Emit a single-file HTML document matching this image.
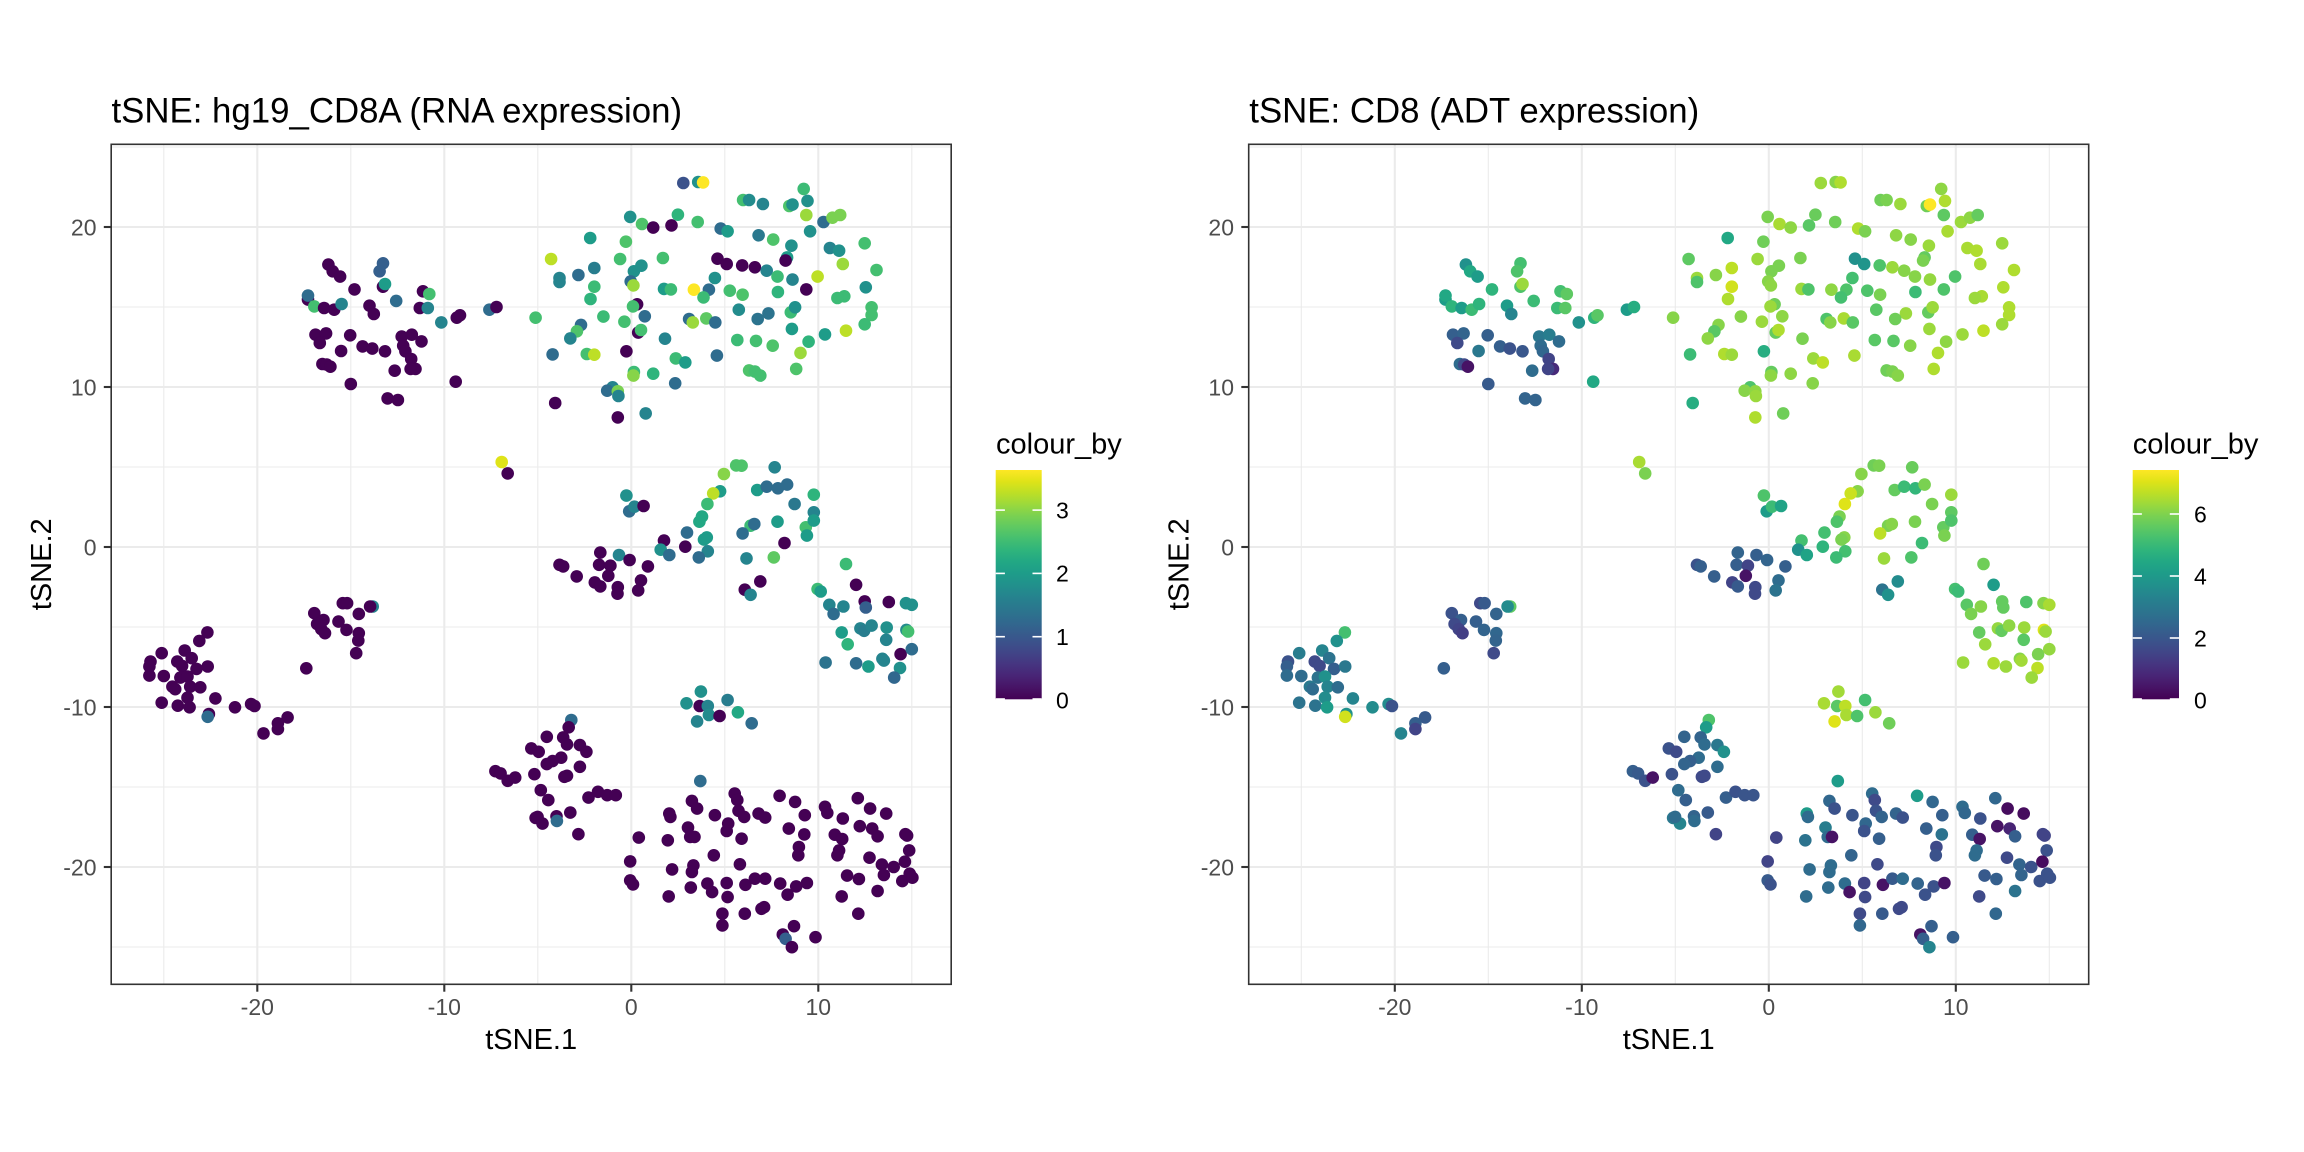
<!DOCTYPE html>
<html>
<head>
<meta charset="utf-8">
<style>
html,body{margin:0;padding:0;background:#fff;}
svg{display:block;}
text{font-family:"Liberation Sans",Arial,Helvetica,sans-serif;}
.tk{font-size:23px;fill:#4D4D4D;}
.ttl{font-size:34.8px;fill:#000;}
.ax{font-size:29px;fill:#000;}
.lg{font-size:29px;fill:#000;}
.ll{font-size:23px;fill:#000;}
.mj{stroke:#EBEBEB;stroke-width:2.1;}
.mn{stroke:#EBEBEB;stroke-width:1.1;}
.tm{stroke:#333333;stroke-width:2.1;}
.cbt{stroke:#ffffff;stroke-width:1.6;}
</style>
</head>
<body>
<svg id="svg" width="2304" height="1152" viewBox="0 0 2304 1152">
<defs>
<linearGradient id="vir" x1="0" y1="1" x2="0" y2="0">
<stop offset="0" stop-color="#440154"/><stop offset="0.05" stop-color="#471365"/><stop offset="0.1" stop-color="#482475"/><stop offset="0.15" stop-color="#463480"/><stop offset="0.2" stop-color="#414487"/><stop offset="0.25" stop-color="#3b528b"/><stop offset="0.3" stop-color="#355f8d"/><stop offset="0.35" stop-color="#2f6c8e"/><stop offset="0.4" stop-color="#2a788e"/><stop offset="0.45" stop-color="#25848e"/><stop offset="0.5" stop-color="#21918c"/><stop offset="0.55" stop-color="#1e9c89"/><stop offset="0.6" stop-color="#22a884"/><stop offset="0.65" stop-color="#2fb47c"/><stop offset="0.7" stop-color="#44bf70"/><stop offset="0.75" stop-color="#5ec962"/><stop offset="0.8" stop-color="#7ad151"/><stop offset="0.85" stop-color="#9bd93c"/><stop offset="0.9" stop-color="#bddf26"/><stop offset="0.95" stop-color="#dfe318"/><stop offset="1" stop-color="#fde725"/>
</linearGradient>
</defs>
<rect x="0" y="0" width="2304" height="1152" fill="#ffffff"/>

<!-- LEFT PANEL -->
<g id="gridL">
<line class="mn" x1="163.8" y1="144.3" x2="163.8" y2="984.3"/>
<line class="mn" x1="350.8" y1="144.3" x2="350.8" y2="984.3"/>
<line class="mn" x1="537.8" y1="144.3" x2="537.8" y2="984.3"/>
<line class="mn" x1="724.8" y1="144.3" x2="724.8" y2="984.3"/>
<line class="mn" x1="911.8" y1="144.3" x2="911.8" y2="984.3"/>
<line class="mn" x1="111.2" y1="147" x2="951.2" y2="147"/>
<line class="mn" x1="111.2" y1="307" x2="951.2" y2="307"/>
<line class="mn" x1="111.2" y1="467" x2="951.2" y2="467"/>
<line class="mn" x1="111.2" y1="627" x2="951.2" y2="627"/>
<line class="mn" x1="111.2" y1="787" x2="951.2" y2="787"/>
<line class="mn" x1="111.2" y1="947" x2="951.2" y2="947"/>
<line class="mj" x1="257.3" y1="144.3" x2="257.3" y2="984.3"/>
<line class="mj" x1="444.3" y1="144.3" x2="444.3" y2="984.3"/>
<line class="mj" x1="631.3" y1="144.3" x2="631.3" y2="984.3"/>
<line class="mj" x1="818.3" y1="144.3" x2="818.3" y2="984.3"/>
<line class="mj" x1="111.2" y1="227" x2="951.2" y2="227"/>
<line class="mj" x1="111.2" y1="387" x2="951.2" y2="387"/>
<line class="mj" x1="111.2" y1="547" x2="951.2" y2="547"/>
<line class="mj" x1="111.2" y1="707" x2="951.2" y2="707"/>
<line class="mj" x1="111.2" y1="867" x2="951.2" y2="867"/>
</g>
<g id="ptsL"></g>
<rect x="111.2" y="144.3" width="840" height="840" fill="none" stroke="#333333" stroke-width="1.6"/>
<g>
<line class="tm" x1="103.8" y1="227" x2="111.2" y2="227"/>
<line class="tm" x1="103.8" y1="387" x2="111.2" y2="387"/>
<line class="tm" x1="103.8" y1="547" x2="111.2" y2="547"/>
<line class="tm" x1="103.8" y1="707" x2="111.2" y2="707"/>
<line class="tm" x1="103.8" y1="867" x2="111.2" y2="867"/>
<line class="tm" x1="257.3" y1="984.3" x2="257.3" y2="991.7"/>
<line class="tm" x1="444.3" y1="984.3" x2="444.3" y2="991.7"/>
<line class="tm" x1="631.3" y1="984.3" x2="631.3" y2="991.7"/>
<line class="tm" x1="818.3" y1="984.3" x2="818.3" y2="991.7"/>
</g>
<text class="tk" x="96.5" y="235.5" text-anchor="end">20</text>
<text class="tk" x="96.5" y="395.5" text-anchor="end">10</text>
<text class="tk" x="96.5" y="555.5" text-anchor="end">0</text>
<text class="tk" x="96.5" y="715.5" text-anchor="end">-10</text>
<text class="tk" x="96.5" y="875.5" text-anchor="end">-20</text>
<text class="tk" x="257.3" y="1015" text-anchor="middle">-20</text>
<text class="tk" x="444.3" y="1015" text-anchor="middle">-10</text>
<text class="tk" x="631.3" y="1015" text-anchor="middle">0</text>
<text class="tk" x="818.3" y="1015" text-anchor="middle">10</text>
<text class="ax" x="531.2" y="1049" text-anchor="middle">tSNE.1</text>
<text class="ax" x="0" y="0" text-anchor="middle" transform="translate(51,564.3) rotate(-90)">tSNE.2</text>
<text class="ttl" x="111.5" y="122.7">tSNE: hg19_CD8A (RNA expression)</text>
<text class="lg" x="996" y="453.3">colour_by</text>
<rect x="995.7" y="470" width="46" height="229.3" fill="url(#vir)"/>
<g>
<line class="cbt" x1="995.7" y1="510.1" x2="1004.9" y2="510.1"/><line class="cbt" x1="1032.5" y1="510.1" x2="1041.7" y2="510.1"/>
<line class="cbt" x1="995.7" y1="573.4" x2="1004.9" y2="573.4"/><line class="cbt" x1="1032.5" y1="573.4" x2="1041.7" y2="573.4"/>
<line class="cbt" x1="995.7" y1="636.7" x2="1004.9" y2="636.7"/><line class="cbt" x1="1032.5" y1="636.7" x2="1041.7" y2="636.7"/>
<line class="cbt" x1="995.7" y1="699" x2="1004.9" y2="699"/><line class="cbt" x1="1032.5" y1="699" x2="1041.7" y2="699"/>
</g>
<text class="ll" x="1056" y="518.4">3</text>
<text class="ll" x="1056" y="581.7">2</text>
<text class="ll" x="1056" y="645">1</text>
<text class="ll" x="1056" y="708.3">0</text>

<!-- RIGHT PANEL -->
<g transform="translate(1137.5,0)">
<line class="mn" x1="163.8" y1="144.3" x2="163.8" y2="984.3"/>
<line class="mn" x1="350.8" y1="144.3" x2="350.8" y2="984.3"/>
<line class="mn" x1="537.8" y1="144.3" x2="537.8" y2="984.3"/>
<line class="mn" x1="724.8" y1="144.3" x2="724.8" y2="984.3"/>
<line class="mn" x1="911.8" y1="144.3" x2="911.8" y2="984.3"/>
<line class="mn" x1="111.2" y1="147" x2="951.2" y2="147"/>
<line class="mn" x1="111.2" y1="307" x2="951.2" y2="307"/>
<line class="mn" x1="111.2" y1="467" x2="951.2" y2="467"/>
<line class="mn" x1="111.2" y1="627" x2="951.2" y2="627"/>
<line class="mn" x1="111.2" y1="787" x2="951.2" y2="787"/>
<line class="mn" x1="111.2" y1="947" x2="951.2" y2="947"/>
<line class="mj" x1="257.3" y1="144.3" x2="257.3" y2="984.3"/>
<line class="mj" x1="444.3" y1="144.3" x2="444.3" y2="984.3"/>
<line class="mj" x1="631.3" y1="144.3" x2="631.3" y2="984.3"/>
<line class="mj" x1="818.3" y1="144.3" x2="818.3" y2="984.3"/>
<line class="mj" x1="111.2" y1="227" x2="951.2" y2="227"/>
<line class="mj" x1="111.2" y1="387" x2="951.2" y2="387"/>
<line class="mj" x1="111.2" y1="547" x2="951.2" y2="547"/>
<line class="mj" x1="111.2" y1="707" x2="951.2" y2="707"/>
<line class="mj" x1="111.2" y1="867" x2="951.2" y2="867"/>
</g>
<g id="ptsR"></g>
<g transform="translate(1137.5,0)">
<rect x="111.2" y="144.3" width="840" height="840" fill="none" stroke="#333333" stroke-width="1.6"/>
<line class="tm" x1="103.8" y1="227" x2="111.2" y2="227"/>
<line class="tm" x1="103.8" y1="387" x2="111.2" y2="387"/>
<line class="tm" x1="103.8" y1="547" x2="111.2" y2="547"/>
<line class="tm" x1="103.8" y1="707" x2="111.2" y2="707"/>
<line class="tm" x1="103.8" y1="867" x2="111.2" y2="867"/>
<line class="tm" x1="257.3" y1="984.3" x2="257.3" y2="991.7"/>
<line class="tm" x1="444.3" y1="984.3" x2="444.3" y2="991.7"/>
<line class="tm" x1="631.3" y1="984.3" x2="631.3" y2="991.7"/>
<line class="tm" x1="818.3" y1="984.3" x2="818.3" y2="991.7"/>
<text class="tk" x="96.5" y="235.5" text-anchor="end">20</text>
<text class="tk" x="96.5" y="395.5" text-anchor="end">10</text>
<text class="tk" x="96.5" y="555.5" text-anchor="end">0</text>
<text class="tk" x="96.5" y="715.5" text-anchor="end">-10</text>
<text class="tk" x="96.5" y="875.5" text-anchor="end">-20</text>
<text class="tk" x="257.3" y="1015" text-anchor="middle">-20</text>
<text class="tk" x="444.3" y="1015" text-anchor="middle">-10</text>
<text class="tk" x="631.3" y="1015" text-anchor="middle">0</text>
<text class="tk" x="818.3" y="1015" text-anchor="middle">10</text>
<text class="ax" x="531.2" y="1049" text-anchor="middle">tSNE.1</text>
<text class="ax" x="0" y="0" text-anchor="middle" transform="translate(51,564.3) rotate(-90)">tSNE.2</text>
<text class="ttl" x="111.8" y="122.7">tSNE: CD8 (ADT expression)</text>
</g>
<text class="lg" x="2132.7" y="453.3">colour_by</text>
<rect x="2132.7" y="470" width="46.3" height="229.3" fill="url(#vir)"/>
<g>
<line class="cbt" x1="2132.7" y1="514" x2="2141.9" y2="514"/><line class="cbt" x1="2169.8" y1="514" x2="2179" y2="514"/>
<line class="cbt" x1="2132.7" y1="576" x2="2141.9" y2="576"/><line class="cbt" x1="2169.8" y1="576" x2="2179" y2="576"/>
<line class="cbt" x1="2132.7" y1="638" x2="2141.9" y2="638"/><line class="cbt" x1="2169.8" y1="638" x2="2179" y2="638"/>
<line class="cbt" x1="2132.7" y1="699" x2="2141.9" y2="699"/><line class="cbt" x1="2169.8" y1="699" x2="2179" y2="699"/>
</g>
<text class="ll" x="2194" y="522.3">6</text>
<text class="ll" x="2194" y="584.3">4</text>
<text class="ll" x="2194" y="646.3">2</text>
<text class="ll" x="2194" y="708.3">0</text>
</svg>
<script>
(function(){
var D=[
[2.78,22.75,.25,.85],[3.58,22.81,.5,.82],[3.84,22.79,1,.88],[5.98,21.69,.7,.78],[6.30,21.69,.48,.8],[7.04,21.44,.45,.85],[9.22,22.38,.68,.83],[9.42,21.63,.5,.88],[8.45,21.31,.72,.78],[8.62,21.40,.5,1],
[9.36,20.75,.85,.75],[10.28,20.31,.35,.85],[10.76,20.58,.8,.83],[11.17,20.75,.8,.76],[-0.06,20.63,.5,.8],[0.57,20.19,.72,.87],[1.17,19.96,0,.83],[2.15,20.10,0,.74],[2.49,20.77,.65,.77],[3.55,20.31,.7,.78],
[4.78,19.90,.35,.88],[5.15,19.73,.55,.8],[6.81,19.48,.4,.83],[7.59,19.21,.72,.82],[9.56,19.73,.5,.87],[-2.20,19.31,.55,.6],[-0.29,19.08,.72,.78],[8.56,18.83,.5,.85],[10.62,18.69,.45,.87],[11.11,18.52,.5,.88],
[12.48,18.98,.7,.85],[-4.29,18.0,.9,.75],[-0.60,18.0,.7,.85],[1.69,18.06,.7,.8],[4.61,18.02,0,.5],[5.10,17.69,0,.52],[5.93,17.60,0,.72],[6.61,17.48,0,.85],[7.24,17.27,.45,.82],[8.33,18.10,.55,.76],
[8.25,17.90,0,.8],[11.31,17.69,.85,.87],[13.11,17.31,.7,.88],[-1.98,17.44,.42,.9],[-2.83,17.0,.35,.82],[-3.84,16.81,.45,.85],[-3.84,16.56,.45,.72],[0.14,17.23,.5,.8],[0.54,17.58,.5,.8],[4.47,16.81,.5,.7],
[7.82,16.90,.68,.82],[8.62,16.71,.45,.84],[9.96,16.90,.9,.72],[-1.98,16.27,.68,.93],[-0.03,16.60,.35,.82],[0.11,16.35,.85,.83],[1.75,16.13,.55,.85],[2.12,16.10,.68,.72],[3.35,16.08,1,.83],[4.15,16.08,.35,.72],
[3.86,15.60,.68,.7],[5.27,16.02,.7,.72],[5.95,15.77,.72,.8],[7.84,15.94,.65,.68],[9.36,16.10,0,.72],[12.54,16.23,.5,.88],[11.39,15.67,.68,.87],[11.02,15.56,.68,.85],[-2.18,15.50,.65,.88],[0.31,15.17,0,.78],
[0.09,15.04,.7,.85],[5.75,14.83,.48,.74],[7.33,14.60,.38,.85],[6.76,14.25,.38,.78],[8.53,14.67,.68,.76],[8.76,14.98,.5,.85],[12.85,14.98,.7,.88],[12.85,14.50,.7,.88],[12.48,13.92,.68,.85],[-5.12,14.33,.7,.82],
[-1.49,14.40,.68,.82],[-0.37,14.08,.7,.85],[0.72,14.42,.35,.83],[3.09,14.25,.35,.72],[3.29,14.04,.85,.82],[4.01,14.29,.75,.87],[4.49,14.04,.35,.74],[-2.69,13.88,.35,.82],[-2.91,13.48,.72,.74],[-3.26,13.04,.45,.83],
[0.37,13.40,0,.76],[0.52,13.56,.7,.88],[8.59,13.63,.55,.85],[10.36,13.29,.55,.85],[11.48,13.52,.9,.9],[1.80,13.02,.45,.8],[5.67,12.94,.68,.74],[6.67,12.88,.7,.74],[7.56,12.58,.72,.82],[9.48,12.83,.65,.83],
[-4.21,12.04,.35,.68],[-2.38,12.06,.7,.88],[-1.98,12.02,.9,.85],[-0.26,12.23,0,.62],[4.58,11.96,.35,.87],[2.38,11.79,.68,.85],[2.89,11.54,.55,.9],[9.05,12.13,.85,.88],[0.14,10.94,.68,.76],[0.11,10.71,.82,.83],
[1.17,10.83,.65,.83],[2.35,10.23,.35,.82],[6.30,11.04,.72,.78],[6.61,10.96,.7,.8],[6.90,10.71,.7,.82],[8.82,11.13,.72,.88],[-1.00,9.98,.45,.72],[-1.29,9.77,.35,.82],[-0.72,9.73,.8,.83],[-0.69,9.44,.45,.85],
[-4.07,9.0,0,.62],[-0.72,8.10,0,.88],[0.77,8.35,.45,.78],
[-16.20,17.65,0,.5],[-15.97,17.23,0,.6],[-15.57,16.90,0,.55],[-13.28,17.73,.3,.7],[-13.46,17.23,.3,.72],[-13.28,16.27,0,.72],[-13.17,16.44,.55,.85],[-14.80,16.10,0,.65],[-11.14,15.98,0,.7],[-10.80,15.81,.7,.75],
[-17.29,15.46,0,.55],[-17.29,15.71,.35,.6],[-16.95,15.04,.7,.65],[-16.43,14.94,0,.55],[-15.89,14.83,0,.68],[-15.49,15.19,.45,.65],[-14.0,15.08,0,.55],[-13.77,14.56,0,.45],[-12.57,15.38,.35,.68],[-11.31,14.94,0,.68],
[-10.88,14.94,.45,.74],[-10.16,14.04,.45,.5],[-9.33,14.33,0,.65],[-9.16,14.48,0,.74],[-7.59,14.83,.35,.55],[-7.21,15.0,0,.62],[-16.89,13.27,0,.3],[-16.32,13.35,0,.32],[-16.66,12.75,0,.22],[-15.03,13.23,0,.3],
[-14.37,12.54,0,.3],[-13.85,12.40,0,.25],[-13.17,12.23,0,.27],[-15.52,12.25,0,.4],[-12.28,13.15,0,.4],[-11.74,13.27,0,.42],[-11.22,12.85,0,.35],[-12.20,12.58,0,.35],[-12.08,12.23,0,.33],[-11.77,11.75,0,.2],
[-11.54,11.13,0,.12],[-11.80,11.13,0,.2],[-12.65,11.02,0,.35],[-16.52,11.44,0,.35],[-16.29,11.40,0,.22],[-16.09,11.27,0,.05],[-15.0,10.19,0,.28],[-13.03,9.29,0,.32],[-12.48,9.19,0,.32],[-9.39,10.33,0,.6],
[-6.93,5.31,.95,.87],[-6.61,4.60,0,.8],
[5.61,5.10,.72,.78],[5.90,5.08,.72,.8],[7.67,4.98,.45,.77],[4.95,4.56,.82,.82],[4.75,3.48,.55,.82],[4.38,3.35,.9,.92],[4.07,2.69,.68,.95],[6.73,3.56,.55,.76],[7.24,3.77,.35,.68],[7.84,3.67,.35,.66],
[8.33,3.90,.35,.8],[9.76,3.27,.65,.85],[8.73,2.69,.4,.8],[-0.26,3.21,.5,.72],[-0.11,2.23,.35,.55],[0.17,2.52,.45,.68],[0.66,2.56,0,.58],[3.78,1.90,.6,.8],[3.64,1.58,.6,.72],[2.98,0.90,.35,.7],
[1.75,0.40,0,.7],[2.89,0.02,0,.65],[4.04,0.60,.55,.82],[3.89,0.46,.55,.8],[4.09,-0.27,.45,.7],[3.61,-0.65,.35,.68],[6.38,1.33,.68,.8],[6.58,1.44,.35,.82],[5.95,0.85,.35,.9],[7.82,1.58,.55,.8],
[9.33,1.23,.7,.76],[9.76,2.17,.45,.75],[9.76,1.65,.55,.72],[9.39,0.71,.55,.8],[8.19,0.25,0,.68],[1.57,-0.17,.5,.5],[2.03,-0.50,.35,.58],[-1.66,-0.35,0,.32],[-0.66,-0.50,.45,.3],[-0.09,-0.81,0,.32],
[6.16,-0.71,.45,.85],[7.62,-0.65,.75,.72],[11.48,-1.06,.68,.78],
[-3.84,-1.11,0,.25],[-3.64,-1.21,0,.3],[-2.92,-1.84,0,.3],[-1.72,-1.11,0,.3],[-1.12,-1.17,0,.2],[-1.23,-1.80,0,.05],[0.89,-1.21,0,.3],[-1.95,-2.21,0,.2],[-1.66,-2.46,0,.28],[-0.72,-2.51,0,.22],
[-0.74,-2.92,0,.22],[0.52,-2.09,0,.35],[0.37,-2.71,0,.38],[6.07,-2.67,0,.38],[6.38,-2.99,.45,.5],[6.90,-2.15,0,.48],
[12.02,-2.36,0,.55],[9.96,-2.63,.68,.7],[10.13,-2.78,.55,.68],[10.59,-3.61,.45,.74],[10.82,-4.18,.35,.8],[11.34,-3.72,.45,.82],[12.48,-3.40,0,.76],[12.54,-3.78,.3,.76],[13.77,-3.44,0,.72],[14.69,-3.51,.5,.82],
[15.0,-3.61,.5,.87],[11.25,-5.34,.55,.76],[11.57,-6.08,.65,.85],[12.25,-5.09,.45,.84],[12.45,-5.24,.42,.76],[12.85,-4.91,.45,.83],[13.66,-5.03,.5,.85],[13.63,-5.80,.45,.74],[14.71,-5.18,.48,.95],[14.80,-5.28,.7,.85],
[14.40,-6.70,0,.8],[15.0,-6.39,.35,.84],[13.43,-6.99,.45,.82],[13.51,-7.10,.45,.86],[12.02,-7.27,.35,.88],[12.68,-7.47,.55,.85],[14.37,-7.56,.5,.9],[14.06,-8.16,.33,.85],[10.39,-7.22,.38,.85],
[3.72,-9.04,.5,.86],[2.95,-9.77,.5,.87],[3.66,-9.94,0,.74],[4.09,-9.94,.45,.9],[4.15,-10.50,.48,.87],[3.52,-10.90,.45,.95],[5.15,-9.56,.42,.7],[4.72,-10.56,0,.72],[5.70,-10.33,.6,.85],[6.44,-11.02,.35,.78],
[-22.67,-5.34,0,.7],[-23.10,-5.87,0,.5],[-25.11,-6.64,0,.42],[-23.88,-6.47,0,.45],[-23.51,-6.95,0,.38],[-25.71,-7.16,0,.25],[-25.77,-7.47,0,.3],[-25.77,-8.04,0,.35],[-25.0,-8.06,0,.35],[-24.28,-7.16,0,.22],
[-24.02,-7.43,0,.22],[-23.25,-7.62,0,.3],[-22.65,-7.47,0,.4],[-24.11,-8.16,0,.38],[-23.73,-8.10,0,.5],[-24.54,-8.73,0,.4],[-24.39,-8.89,0,.35],[-23.59,-8.73,0,.45],[-23.05,-8.77,0,.35],[-23.73,-9.42,0,.48],
[-22.24,-9.46,0,.45],[-25.11,-9.73,0,.38],[-24.25,-9.92,0,.38],[-23.62,-10.02,0,.55],[-22.59,-10.44,0,.5],[-22.65,-10.61,.35,.93],[-21.19,-10.02,0,.48],[-20.33,-9.81,0,.48],[-20.15,-9.94,0,.25],[-18.38,-10.65,0,.28],
[-18.90,-11.02,0,.3],[-18.90,-11.38,0,.2],[-19.67,-11.65,0,.45],
[-15.43,-3.51,0,.22],[-15.20,-3.51,0,.28],[-13.83,-3.72,.45,.75],[-13.97,-3.72,0,.48],[-16.95,-4.14,0,.25],[-16.46,-4.56,0,.3],[-16.80,-4.81,0,.22],[-16.58,-5.14,0,.2],[-16.38,-5.39,0,.18],[-15.66,-4.66,0,.3],
[-15.23,-5.18,0,.32],[-14.57,-4.18,0,.32],[-14.57,-5.39,0,.33],[-14.60,-5.85,0,.32],[-14.71,-6.64,0,.22],[-17.38,-7.58,0,.3],
[-3.21,-10.81,.35,.72],[-3.35,-11.27,0,.55],[-4.52,-11.86,0,.32],[-3.64,-11.90,0,.32],[-3.44,-12.34,0,.35],[-2.75,-12.38,0,.4],[-2.40,-12.80,0,.5],[-5.35,-12.59,0,.25],[-4.95,-12.80,0,.22],[-3.75,-13.17,0,.35],
[-4.21,-13.38,0,.3],[-4.52,-13.57,0,.32],[-2.75,-13.74,0,.35],[-7.27,-14.01,0,.3],[-6.99,-14.15,0,.28],[-6.61,-14.61,0,.25],[-6.21,-14.41,0,.05],[-5.18,-14.20,0,.25],[-3.58,-14.36,0,.22],[-3.44,-14.30,0,.22],
[-4.84,-15.20,0,.35],[-4.44,-15.82,0,.3],[-3.26,-16.60,0,.28],[-2.29,-15.66,0,.3],[-1.78,-15.30,0,.25],[-1.29,-15.51,0,.26],[-0.83,-15.51,0,.26],[-5.12,-16.93,0,.4],[-4.75,-17.29,0,.45],[-5.01,-16.87,0,.35],
[-4.0,-16.83,0,.32],[-3.98,-17.12,.35,.35],[-2.83,-17.95,0,.2],
[3.69,-14.63,.35,.55],[5.53,-15.41,0,.35],[5.67,-15.82,0,.22],[7.93,-15.55,0,.55],[8.76,-15.93,0,.33],[3.24,-15.87,0,.33],[3.52,-16.35,0,.25],[2.03,-16.66,0,.55],[2.09,-16.87,0,.35],[4.47,-16.76,0,.26],
[5.73,-16.49,0,.25],[6.04,-16.87,0,.32],[6.81,-16.66,0,.32],[7.16,-16.91,0,.25],[9.28,-16.76,0,.3],[10.36,-16.24,0,.35],[10.48,-16.62,0,.33],[11.31,-16.97,0,.25],[12.11,-15.70,0,.33],[12.77,-16.35,0,.03],
[13.63,-16.66,0,.03],[12.22,-17.45,0,.05],[12.88,-17.60,0,.1],[13.17,-18.08,0,.3],[14.66,-17.95,0,.2],[14.75,-18.04,0,.2],[14.86,-18.96,0,.25],[3.03,-17.54,0,.42],[3.15,-18.12,0,.35],[3.38,-18.12,0,.05],
[5.18,-17.29,0,.33],[5.10,-17.75,0,.25],[5.90,-18.23,0,.3],[1.95,-18.33,0,.38],[0.40,-18.16,0,.2],[8.42,-17.60,0,.3],[9.25,-17.96,0,.38],[10.88,-17.98,0,.3],[11.28,-18.25,0,.05],[8.96,-18.75,0,.22],
[8.93,-19.27,0,.25],[11.11,-18.96,0,.35],[11.02,-19.27,0,.35],[12.74,-19.42,0,.22],[13.40,-19.85,0,.32],[14.03,-20.0,0,.25],[14.63,-19.67,0,.03],[4.41,-19.27,0,.32],[5.81,-19.83,0,.22],[-0.06,-19.65,0,.2],
[-0.06,-20.84,0,.28],[0.09,-21.09,0,.25],[2.18,-20.15,0,.35],[3.32,-19.90,0,.35],[3.24,-20.31,0,.35],[3.18,-21.29,0,.35],[4.07,-21.04,0,.35],[4.32,-21.57,0,.05],[5.10,-21.0,0,.2],[6.10,-21.11,0,.05],
[6.61,-20.73,0,.28],[7.16,-20.73,0,.35],[7.96,-21.04,0,.32],[8.82,-21.21,0,.25],[8.36,-21.73,0,.25],[9.39,-21.0,0,.05],[5.15,-21.88,0,.22],[2.0,-21.84,0,.35],[11.54,-20.54,0,.28],[12.17,-20.75,0,.3],
[13.51,-20.50,0,.32],[13.17,-21.50,0,.38],[14.49,-20.88,0,.25],[14.89,-20.42,0,.25],[15.03,-20.67,0,.25],[11.25,-21.84,0,.22],[7.10,-22.51,0,.22],[6.96,-22.61,0,.22],[6.07,-22.92,0,.28],[4.87,-22.92,0,.22],
[4.87,-23.65,0,.33],[8.70,-23.70,0,.3],[12.14,-22.92,0,.33],[8.10,-24.22,0,.05],[8.25,-24.49,.3,.3],[8.59,-25.01,0,.45],[9.85,-24.39,0,.3]
];
var S=[[68,1,84],[71,19,101],[72,36,117],[70,52,128],[65,68,135],[59,82,139],[53,95,141],[47,108,142],[42,120,142],[37,132,142],[33,145,140],[30,156,137],[34,168,132],[47,180,124],[68,191,112],[94,201,98],[122,209,81],[155,217,60],[189,223,38],[223,227,24],[253,231,37]];
function vir(t){
  t=Math.max(0,Math.min(1,t));
  var n=S.length-1,f=t*n,i=Math.min(n-1,Math.floor(f)),u=f-i,a=S[i],b=S[i+1];
  return 'rgb('+Math.round(a[0]+(b[0]-a[0])*u)+','+Math.round(a[1]+(b[1]-a[1])*u)+','+Math.round(a[2]+(b[2]-a[2])*u)+')';
}
var gL=document.getElementById('ptsL'),gR=document.getElementById('ptsR');
var ns=gL.namespaceURI;
function mk(g,x,y,c){
  var e=document.createElementNS(ns,'circle');
  e.setAttribute('cx',x.toFixed(1));e.setAttribute('cy',y.toFixed(1));
  e.setAttribute('r','6.3');e.setAttribute('fill',c);
  g.appendChild(e);
}
for(var k=0;k<D.length;k++){
  var p=D[k],cy=547-16*p[1];
  mk(gL,631.3+18.7*p[0],cy,vir(p[2]));
  mk(gR,1768.8+18.7*p[0],cy,vir(p[3]));
}
})();
</script>
</body>
</html>
